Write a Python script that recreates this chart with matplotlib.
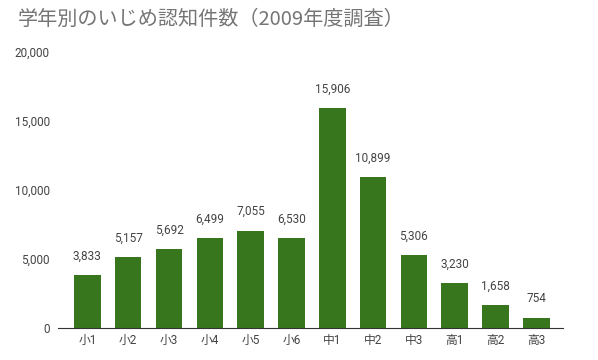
import matplotlib
matplotlib.use("Agg")
import matplotlib.pyplot as plt
from matplotlib.ticker import FuncFormatter

plt.rcParams['font.family'] = ['Roboto', 'Noto Sans CJK JP', 'DejaVu Sans']

# grade labels and counts (2009 survey)
grades = ['小1', '小2', '小3', '小4', '小5', '小6', '中1', '中2', '中3', '高1', '高2', '高3']
counts = [3833, 5157, 5692, 6499, 7055, 6530, 15906, 10899, 5306, 3230, 1658, 754]
title = '学年別のいじめ認知件数（2009年度調査）'

fig = plt.figure(figsize=(5.98, 3.6), dpi=100)
ax = fig.add_axes([0.097, 0.089, 0.845, 0.767])

x = range(len(grades))
bars = ax.bar(x, counts, width=0.65, color='#38761d')

for xi, v in zip(x, counts):
    ax.text(xi, v + 900, f'{v:,}', ha='center', va='bottom', fontsize=8.5, color='#444444')

ax.set_xlim(-0.72, len(grades) - 0.34)
ax.set_ylim(0, 20000)
ax.set_yticks([0, 5000, 10000, 15000, 20000])
ax.yaxis.set_major_formatter(FuncFormatter(lambda v, p: f'{int(v):,}'))
ax.set_xticks(list(x))
ax.set_xticklabels(grades)

for s in ['top', 'right', 'left']:
    ax.spines[s].set_visible(False)
ax.spines['bottom'].set_color('#333333')
ax.tick_params(axis='y', length=0, labelsize=8.5, labelcolor='#444444', pad=6)
ax.tick_params(axis='x', length=0, labelsize=8.5, labelcolor='#444444', pad=4)

fig.text(0.03, 0.945, title, fontsize=14.5, color='#757575', ha='left', va='center',
         family=['Noto Sans CJK JP', 'DejaVu Sans'])

plt.savefig('out.png', dpi=100)
